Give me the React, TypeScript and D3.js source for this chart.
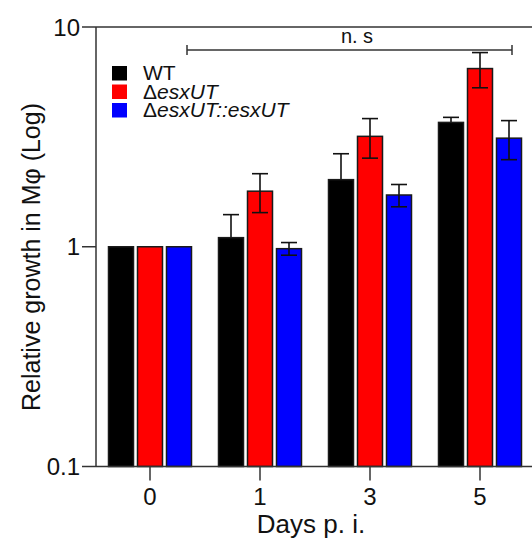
import React from "react";
import * as d3 from "d3";

const days = ["0", "1", "3", "5"];
const strains = ["WT", "dEsx", "comp"];
const wtMean = [1.0, 1.1, 2.02, 3.68];
const wtErr = [0, 0.3, 0.63, 0.2];
const delMean = [1.0, 1.79, 3.18, 6.47];
const delErr = [0, 0.36, 0.65, 1.18];
const compMean = [1.0, 0.98, 1.72, 3.12];
const compErr = [0, 0.065, 0.2, 0.63];
const colors = ["#000000", "#ff0000", "#0000ff"];
const yTicks = [0.1, 1, 10];

const W = 532;
const H = 538;
const font = "'Liberation Sans', Arial, sans-serif";

export default function App() {
  const x = d3.scaleBand().domain(days).range([95, 535]);
  const y = d3.scaleLog().domain([0.1, 10]).range([466.5, 27]);
  const means = [wtMean, delMean, compMean];
  const errs = [wtErr, delErr, compErr];
  const offsets = [-29, 0, 29];
  const barW = 25;
  const cap = 8;
  const left = 96;
  const bottom = y(0.1);

  return (
    <svg
      width={W}
      height={H}
      style={{ position: "absolute", left: 0, top: 0 }}
      fontFamily={font}
    >
      {/* bars */}
      {days.map((d, i) => {
        const cx = (x(d) ?? 0) + x.bandwidth() / 2;
        return (
          <g key={d}>
            {strains.map((s, k) => {
              const v = means[k][i];
              const e = errs[k][i];
              const bx = cx + offsets[k] - barW / 2;
              return (
                <g key={s}>
                  {e > 0 && (
                    <g stroke="#111" strokeWidth={1.6}>
                      <line x1={cx + offsets[k]} x2={cx + offsets[k]} y1={y(v + e)} y2={y(v - e)} />
                      <line x1={cx + offsets[k] - cap} x2={cx + offsets[k] + cap} y1={y(v + e)} y2={y(v + e)} />
                    </g>
                  )}
                  <rect
                    x={bx}
                    y={y(v)}
                    width={barW}
                    height={bottom - y(v)}
                    fill={colors[k]}
                    stroke="#1a1a1a"
                    strokeWidth={1.5}
                  />
                  {e > 0 && k !== 0 && (
                    <g stroke="#111" strokeWidth={1.6}>
                      <line x1={cx + offsets[k]} x2={cx + offsets[k]} y1={y(v)} y2={y(v - e)} />
                      <line x1={cx + offsets[k] - cap} x2={cx + offsets[k] + cap} y1={y(v - e)} y2={y(v - e)} />
                    </g>
                  )}
                </g>
              );
            })}
          </g>
        );
      })}

      {/* frame */}
      <g stroke="#333" strokeWidth={1.5} fill="none">
        <line x1={left} x2={W} y1={y(10)} y2={y(10)} />
        <line x1={left} x2={W} y1={bottom} y2={bottom} />
        <line x1={left} x2={left} y1={y(10)} y2={bottom} />
      </g>

      {/* y ticks */}
      {yTicks.map((t) => (
        <g key={t}>
          <line x1={left - 14} x2={left} y1={y(t)} y2={y(t)} stroke="#333" strokeWidth={1.5} />
          <text x={left - 16} y={y(t)} dy="0.36em" textAnchor="end" fontSize={24} fill="#111">
            {t === 0.1 ? "0.1" : String(t)}
          </text>
        </g>
      ))}

      {/* x ticks */}
      {days.map((d) => {
        const cx = (x(d) ?? 0) + x.bandwidth() / 2;
        return (
          <g key={d}>
            <line x1={cx} x2={cx} y1={bottom} y2={bottom + 14} stroke="#333" strokeWidth={1.5} />
            <text x={cx} y={505} textAnchor="middle" fontSize={24} fill="#111">
              {d}
            </text>
          </g>
        );
      })}

      <text x={311} y={533} textAnchor="middle" fontSize={26} fill="#111">
        Days p. i.
      </text>
      <text
        transform={`translate(40,257) rotate(-90)`}
        textAnchor="middle"
        fontSize={25}
        fill="#111"
      >
        Relative growth in Mφ (Log)
      </text>

      {/* n.s. bracket */}
      <g stroke="#333" strokeWidth={1.5}>
        <line x1={187} x2={512} y1={50} y2={50} />
        <line x1={187} x2={187} y1={45} y2={55} />
        <line x1={512} x2={512} y1={45} y2={55} />
      </g>
      <text x={357} y={43} textAnchor="middle" fontSize={20} fill="#111">
        n. s
      </text>

      {/* legend */}
      {strains.map((s, k) => (
        <g key={s} transform={`translate(112,${66 + k * 18.5})`}>
          <rect width={15} height={14.5} fill={colors[k]} />
          <text x={31} y={14} fontSize={21} fill="#111">
            {k === 0 ? (
              "WT"
            ) : k === 1 ? (
              <>
                Δ<tspan fontStyle="italic">esxUT</tspan>
              </>
            ) : (
              <>
                Δ<tspan fontStyle="italic">esxUT::esxUT</tspan>
              </>
            )}
          </text>
        </g>
      ))}
    </svg>
  );
}
